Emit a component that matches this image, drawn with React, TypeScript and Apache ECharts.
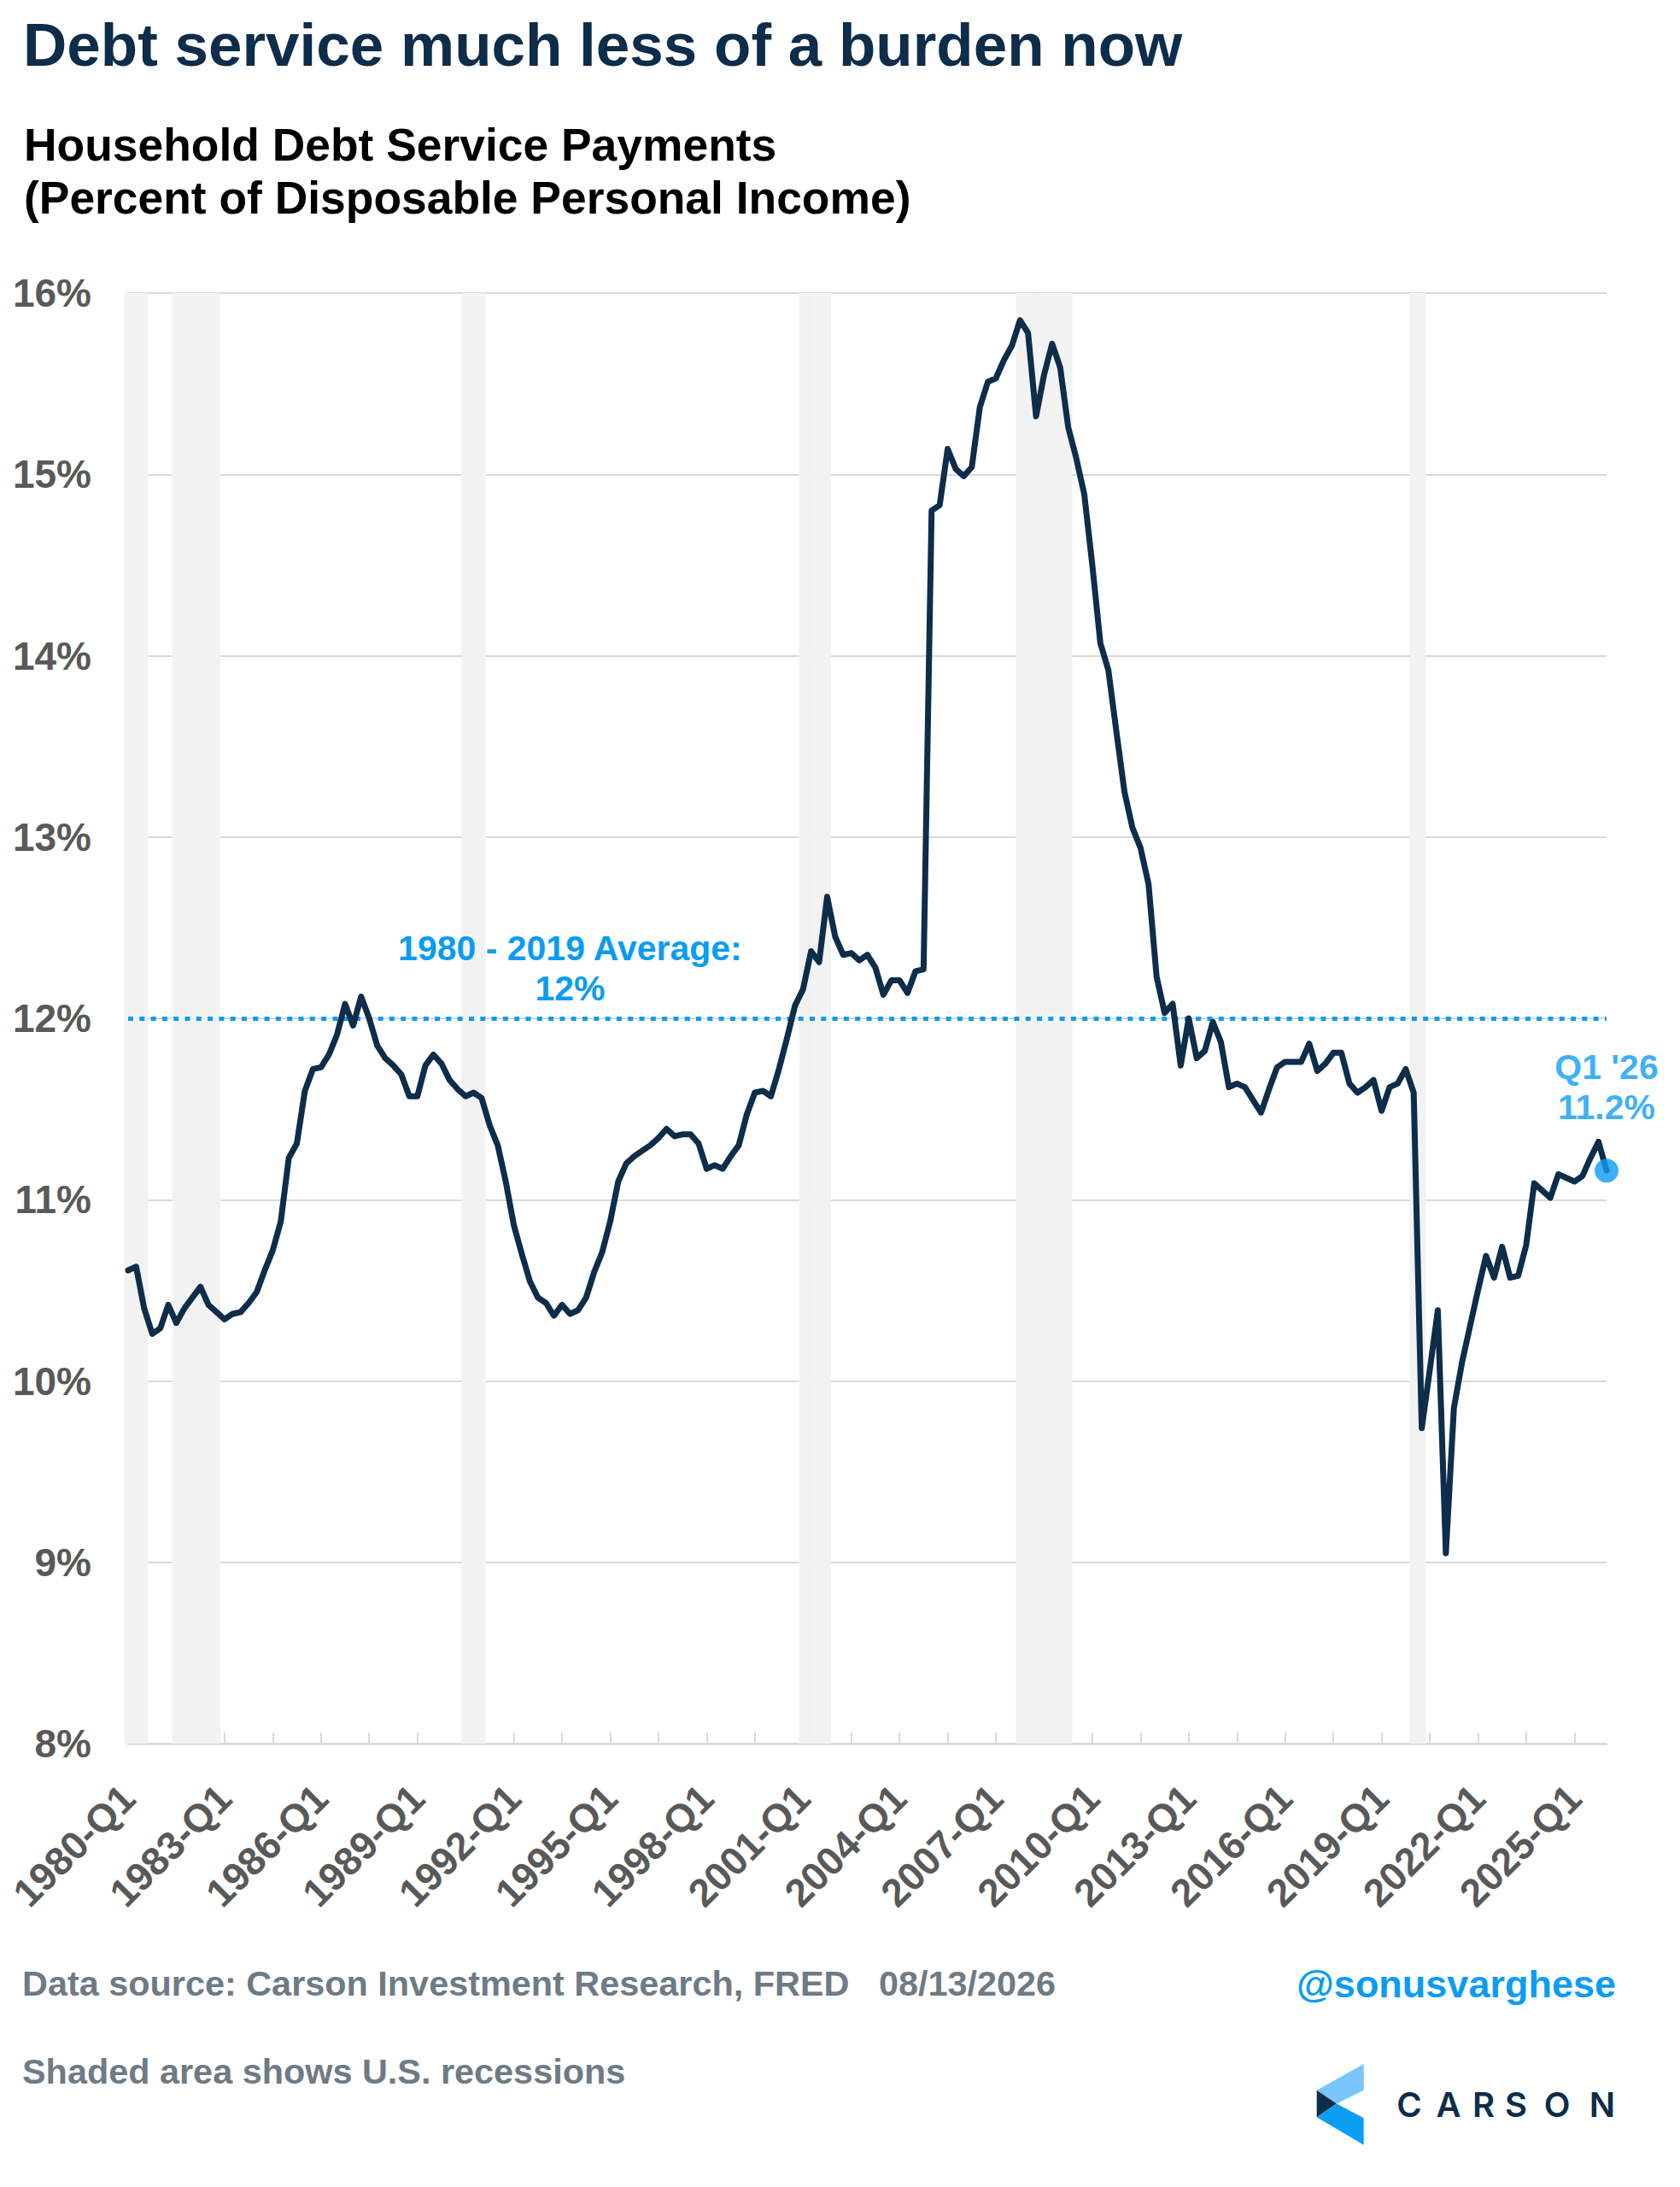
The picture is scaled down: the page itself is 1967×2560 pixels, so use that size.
import React, { useEffect, useRef } from 'react';
import * as echarts from 'echarts';

// ---- Data ----
// Quarterly categories 1980-Q1 .. 2026-Q1
const quarters: string[] = [];
for (let y = 1980; y <= 2026; y++) {
  for (let q = 1; q <= 4; q++) {
    if (y === 2026 && q > 1) break;
    quarters.push(`${y}-Q${q}`);
  }
}

// Household debt service payments, % of disposable personal income
const dsp1980s = [
  10.61, 10.63, 10.40, 10.26, 10.29, 10.42, 10.32, 10.40, 10.46, 10.52,
  10.42, 10.38, 10.34, 10.37, 10.38, 10.43, 10.49, 10.61, 10.72, 10.88,
  11.23, 11.31, 11.60, 11.72, 11.73, 11.80, 11.91, 12.08, 11.96, 12.12,
  12.00, 11.85, 11.78, 11.74, 11.69, 11.57, 11.57, 11.74, 11.80, 11.75,
];
const dsp1990s = [
  11.66, 11.61, 11.57, 11.59, 11.56, 11.41, 11.30, 11.10, 10.86, 10.70,
  10.55, 10.46, 10.43, 10.36, 10.42, 10.37, 10.39, 10.46, 10.60, 10.71,
  10.88, 11.10, 11.20, 11.24, 11.27, 11.30, 11.34, 11.39, 11.35, 11.36,
  11.36, 11.31, 11.17, 11.19, 11.17, 11.24, 11.30, 11.47, 11.59, 11.60,
];
const dsp2000s = [
  11.57, 11.72, 11.89, 12.07, 12.16, 12.37, 12.31, 12.67, 12.45, 12.35,
  12.36, 12.32, 12.35, 12.28, 12.13, 12.21, 12.21, 12.14, 12.26, 12.27,
  14.80, 14.83, 15.14, 15.03, 14.99, 15.04, 15.37, 15.51, 15.53, 15.63,
  15.71, 15.85, 15.78, 15.32, 15.55, 15.72, 15.59, 15.26, 15.09, 14.89,
];
const dsp2010s = [
  14.50, 14.07, 13.92, 13.58, 13.25, 13.05, 12.94, 12.74, 12.23, 12.03,
  12.08, 11.74, 12.00, 11.78, 11.82, 11.98, 11.87, 11.62, 11.64, 11.62,
  11.55, 11.48, 11.61, 11.73, 11.76, 11.76, 11.76, 11.86, 11.71, 11.75,
  11.81, 11.81, 11.64, 11.59, 11.62, 11.66, 11.49, 11.62, 11.64, 11.72,
];
const dsp2020s = [
  11.59, 9.74, 10.06, 10.39, 9.05, 9.85, 10.10, 10.30, 10.50, 10.69,
  10.57, 10.74, 10.57, 10.58, 10.75, 11.09, 11.05, 11.01, 11.14, 11.12,
  11.10, 11.13, 11.23, 11.32, 11.16,
];
const dspValues = [...dsp1980s, ...dsp1990s, ...dsp2000s, ...dsp2010s, ...dsp2020s];

// U.S. recessions (first and last quarter)
const recessions: [string, string][] = [
  ['1980-Q1', '1980-Q3'],
  ['1981-Q3', '1982-Q4'],
  ['1990-Q3', '1991-Q1'],
  ['2001-Q1', '2001-Q4'],
  ['2007-Q4', '2009-Q2'],
  ['2020-Q1', '2020-Q2'],
];

const averageValue = 12;
const averageLabel = '1980 - 2019 Average:';
const averageLabelAnchor = '1993-Q4';
const yTicks = [8, 9, 10, 11, 12, 13, 14, 15, 16];

// ---- Styles ----
const FONT = '"Liberation Sans", Arial, Helvetica, sans-serif';
const NAVY = '#0d2d4a';
const BLUE = '#0a9cf5';
const GREY_TEXT = '#595959';
const GRID = '#d9d9d9';
const FOOT = '#6e7b85';

function buildOption() {
  const idx = (q: string) => quarters.indexOf(q);
  const bandData = quarters.map((_, i) =>
    recessions.some(([a, b]) => i >= idx(a) && i <= idx(b)) ? yTicks[yTicks.length - 1] : '-'
  );
  const lastI = quarters.length - 1;
  const lastQ = quarters[lastI];
  const lastV = dspValues[lastI];
  const lastLabel = `Q${lastQ.slice(6)} '${lastQ.slice(2, 4)}\n${lastV.toFixed(1)}%`;

  const txt = (text: string, x: number, y: number, size: number, color: string, weight: any = 'bold', family = FONT, align = 'left') => ({
    type: 'text',
    x,
    y,
    silent: true,
    style: {
      text,
      fill: color,
      fontSize: size,
      fontWeight: weight,
      fontFamily: family,
      align,
      textAlign: align,
      verticalAlign: 'middle',
      textVerticalAlign: 'middle',
    },
  });

  const logoLetters = ['C', 'A', 'R', 'S', 'O', 'N'];
  const logoX = [1650, 1696, 1737, 1775, 1823, 1876];

  return {
    animation: false,
    backgroundColor: '#ffffff',
    grid: { left: 150, right: 86, top: 343, bottom: 519, containLabel: false },
    xAxis: {
      type: 'category',
      data: quarters,
      boundaryGap: false,
      axisLine: { show: true, lineStyle: { color: GRID, width: 2.5 } },
      axisTick: {
        show: true,
        inside: true,
        length: 13,
        interval: (i: number) => i % 6 === 0,
        lineStyle: { color: GRID, width: 2 },
      },
      axisLabel: {
        interval: (i: number) => i % 12 === 0,
        rotate: 45,
        margin: 56,
        color: GREY_TEXT,
        fontSize: 46,
        fontWeight: 'bold',
        fontFamily: FONT,
      },
      splitLine: { show: false },
    },
    yAxis: {
      type: 'value',
      min: yTicks[0],
      max: yTicks[yTicks.length - 1],
      interval: 1,
      axisLine: { show: true, lineStyle: { color: GRID, width: 2 } },
      axisTick: { show: false },
      axisLabel: {
        formatter: '{value}%',
        margin: 43,
        color: GREY_TEXT,
        fontSize: 46,
        fontWeight: 'bold',
        fontFamily: FONT,
      },
      splitLine: { show: true, lineStyle: { color: GRID, width: 2 } },
    },
    series: [
      {
        name: 'Recession',
        type: 'bar',
        data: bandData,
        barWidth: '100%',
        barGap: '-100%',
        clip: true,
        silent: true,
        z: 1,
        itemStyle: { color: '#f2f2f2' },
      },
      {
        name: 'Debt Service',
        type: 'line',
        data: dspValues,
        showSymbol: false,
        symbol: 'none',
        z: 4,
        lineStyle: { color: NAVY, width: 7, join: 'round', cap: 'round' },
        itemStyle: { color: NAVY },
        markLine: {
          silent: true,
          symbol: 'none',
          z: 3,
          label: { show: false },
          lineStyle: { color: BLUE, width: 5, type: [6, 7.3] },
          data: [{ yAxis: averageValue }],
        },
        markPoint: {
          silent: true,
          symbol: 'circle',
          symbolSize: 1,
          itemStyle: { color: 'rgba(0,0,0,0)' },
          label: {
            show: true,
            position: 'top',
            distance: 11,
            formatter: `${averageLabel}\n${averageValue}%`,
            color: BLUE,
            fontSize: 41,
            fontWeight: 'bold',
            fontFamily: FONT,
            lineHeight: 47,
            align: 'center',
          },
          data: [{ coord: [averageLabelAnchor, averageValue], value: averageValue }],
        },
      },
      {
        name: 'Latest',
        type: 'scatter',
        data: [[lastQ, lastV]],
        symbolSize: 28,
        z: 5,
        itemStyle: { color: BLUE },
        label: {
          show: true,
          position: 'top',
          distance: 37,
          formatter: lastLabel,
          color: BLUE,
          fontSize: 41,
          fontWeight: 'bold',
          fontFamily: FONT,
          lineHeight: 47,
          align: 'center',
        },
      },
    ],
    graphic: [
      txt('Debt service much less of a burden now', 27, 52, 71, NAVY),
      txt('Household Debt Service Payments', 28, 169, 53.4, '#000000'),
      txt('(Percent of Disposable Personal Income)', 28, 231, 53.4, '#000000'),
      txt('Data source: Carson Investment Research, FRED   08/13/2026', 26, 2322, 41.4, FOOT),
      txt('Shaded area shows U.S. recessions', 26, 2425, 41.4, FOOT),
      txt('@sonusvarghese', 1892, 2322, 45, BLUE, 'bold', FONT, 'right'),
      {
        type: 'polygon',
        silent: true,
        shape: { points: [[1541.7, 2446.7], [1596.7, 2416], [1596.7, 2446.7], [1565, 2462.5]] },
        style: { fill: '#78c6fb' },
      },
      {
        type: 'polygon',
        silent: true,
        shape: { points: [[1541.7, 2446.7], [1565, 2462.5], [1541.7, 2478.3]] },
        style: { fill: NAVY },
      },
      {
        type: 'polygon',
        silent: true,
        shape: { points: [[1541.7, 2478.3], [1565, 2462.5], [1596.7, 2479.3], [1596.7, 2510.7]] },
        style: { fill: '#0b9ef5' },
      },
      ...logoLetters.map((c, i) => txt(c, logoX[i], 2463, 40, NAVY, 600, 'Inter, "Liberation Sans", sans-serif', 'center')),
    ],
  };
}

export default function App() {
  const ref = useRef<HTMLDivElement>(null);
  useEffect(() => {
    if (!ref.current) return;
    const chart = echarts.init(ref.current, undefined, { renderer: 'svg' });
    chart.setOption(buildOption() as any);
    return () => chart.dispose();
  }, []);
  return (
    <div
      ref={ref}
      style={{ position: 'absolute', left: 0, top: 0, width: 1967, height: 2560, background: '#fff' }}
    />
  );
}
